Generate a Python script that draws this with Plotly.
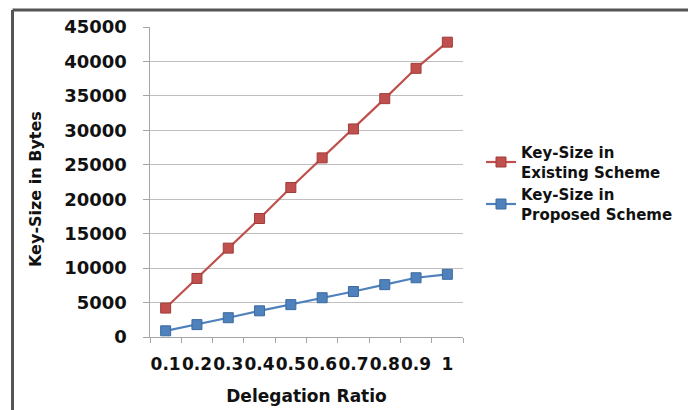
import plotly.graph_objects as go

categories = ["0.1", "0.2", "0.3", "0.4", "0.5", "0.6", "0.7", "0.8", "0.9", "1"]
existing = [4200, 8500, 12900, 17200, 21700, 26000, 30200, 34600, 39000, 42800]
proposed = [900, 1800, 2800, 3800, 4700, 5700, 6600, 7600, 8600, 9100]
y_ticks = [0, 5000, 10000, 15000, 20000, 25000, 30000, 35000, 40000, 45000]

RED = "#C0504D"
BLUE = "#4F81BD"
FONT = "DejaVu Sans"
NB = "\u00a0"

fig = go.Figure()
fig.add_trace(go.Scatter(
    x=categories, y=existing, mode="lines+markers",
    name="Key-Size in<br>Existing Scheme",
    line=dict(color=RED, width=2.2),
    marker=dict(symbol="square", size=10, color=RED, line=dict(color="#A03C3A", width=1)),
))
fig.add_trace(go.Scatter(
    x=categories, y=proposed, mode="lines+markers",
    name="Key-Size in<br>Proposed Scheme",
    line=dict(color=BLUE, width=2.2),
    marker=dict(symbol="square", size=10, color=BLUE, line=dict(color="#3C6A9E", width=1)),
))

OFF = 8  # page body margin
W, H = 688, 402
# plot area in screen pixels: x 150..463, y 27..337
L, T = 150 - OFF, 27 - OFF
pw, ph = 313, 310
R, B = W - L - pw, H - T - ph

def px(xs):
    return (xs - OFF - L) / pw

def py(ys):
    return (T + ph - (ys - OFF)) / ph

fig.update_layout(
    width=W, height=H,
    margin=dict(l=L, r=R, t=T, b=B, autoexpand=False),
    paper_bgcolor="white", plot_bgcolor="white",
    font=dict(family=FONT, color="#222222"),
    showlegend=True,
    legend=dict(
        x=px(481), y=py(136), xanchor="left", yanchor="top",
        font=dict(family=FONT, size=15, color="#111111", weight="bold"),
        bgcolor="rgba(0,0,0,0)", tracegroupgap=0, itemwidth=30,
    ),
    xaxis=dict(
        type="category", range=[-0.5, 9.5],
        showline=True, linecolor="#A6A6A6", linewidth=1,
        ticks="outside", tickson="boundaries", ticklen=5, tickcolor="#A6A6A6",
        tickangle=0, ticklabelstandoff=12,
        showgrid=False, zeroline=False,
        tickfont=dict(family=FONT, size=17, color="#111111", weight="bold"),
        title=dict(text="Delegation Ratio", standoff=16,
                   font=dict(family=FONT, size=17, color="#111111", weight="bold")),
    ),
    yaxis=dict(
        range=[0, 45000], tickvals=y_ticks,
        ticktext=[str(v) + NB * 2 for v in y_ticks],
        showline=True, linecolor="#A6A6A6", linewidth=1,
        ticks="outside", ticklen=6, tickcolor="#A6A6A6",
        showgrid=True, gridcolor="#BFBFBF", gridwidth=1,
        zeroline=False,
        tickfont=dict(family=FONT, size=18, color="#111111", weight="bold"),
    ),
    annotations=[dict(
        text="Key-Size in Bytes", textangle=-90, showarrow=False,
        xref="paper", yref="paper", x=px(35), y=py(189),
        xanchor="center", yanchor="middle",
        font=dict(family=FONT, size=16, color="#111111", weight="bold"),
    )],
)

# outer frame (top and left edges)
fig.add_shape(type="line", xref="paper", yref="paper",
              x0=px(12.5), x1=px(W + 20), y0=py(10), y1=py(10),
              line=dict(color="#555555", width=3))
fig.add_shape(type="line", xref="paper", yref="paper",
              x0=px(12.5), x1=px(12.5), y0=py(10), y1=py(H + 20),
              line=dict(color="#555555", width=3))

fig.write_html("out.html")
